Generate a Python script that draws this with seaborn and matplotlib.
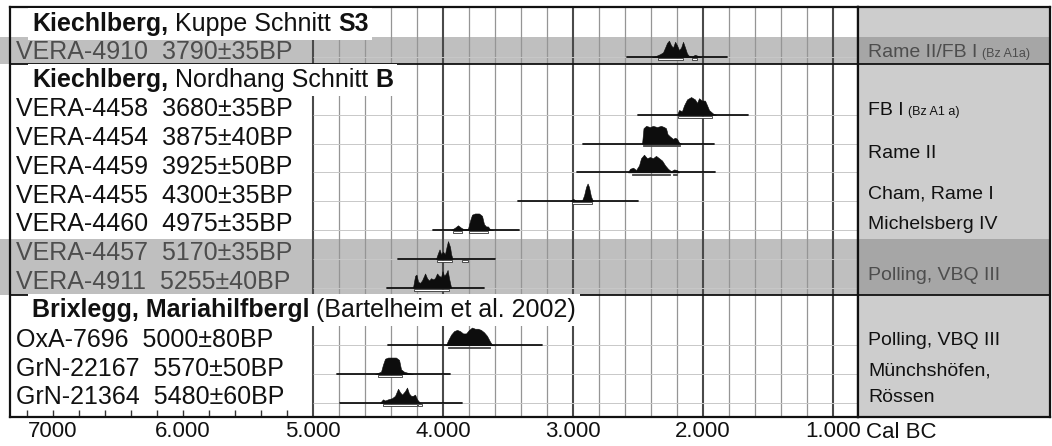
import numpy as np
import pandas as pd
import matplotlib
matplotlib.use("Agg")
import matplotlib.pyplot as plt
import matplotlib.transforms as mtransforms
from matplotlib.patches import Rectangle
import seaborn as sns

# ---------------- data ----------------
lab_codes = ["VERA-4910", "VERA-4458", "VERA-4454", "VERA-4459", "VERA-4455",
             "VERA-4460", "VERA-4457", "VERA-4911", "OxA-7696", "GrN-22167", "GrN-21364"]
bp_dates = ["3790±35BP", "3680±35BP", "3875±40BP", "3925±50BP", "4300±35BP",
            "4975±35BP", "5170±35BP", "5255±40BP", "5000±80BP", "5570±50BP", "5480±60BP"]
sample_rows = [1, 3, 4, 5, 6, 7, 8, 9, 11, 12, 13]
range_from = [2585, 2500, 2923, 2969, 3423, 4077, 4346, 4431, 4423, 4815, 4792]
range_to = [1815, 1654, 1915, 1908, 2500, 3415, 3600, 3685, 3238, 3946, 3854]

years_4910 = [2392, 2362, 2331, 2308, 2292, 2277, 2262, 2246, 2231, 2215, 2200, 2185, 2169, 2154, 2138, 2123, 2108, 2085, 2062, 2038, 2015]
dens_4910 = [0, 1, 2.5, 4, 8, 12, 14, 10, 8, 13, 10, 6, 8, 13, 8, 3, 1, 0.5, 2, 1, 0]
years_4458 = [2200, 2185, 2162, 2146, 2123, 2092, 2062, 2046, 2031, 2008, 1985, 1969, 1954, 1923, 1900]
dens_4458 = [0, 4, 3, 8, 13, 15, 13, 10, 14, 12, 12, 8, 4, 1, 0]
years_4454 = [2469, 2458, 2438, 2408, 2385, 2354, 2323, 2300, 2285, 2273, 2254, 2231, 2215, 2200, 2185, 2169]
dens_4454 = [0, 13, 15, 14, 15, 14, 15, 14, 13, 8, 6, 4, 5, 4, 1, 0]
years_4459 = [2577, 2562, 2538, 2515, 2492, 2477, 2454, 2431, 2408, 2385, 2362, 2338, 2315, 2292, 2269, 2246, 2223, 2200, 2185]
dens_4459 = [0, 3, 4, 2, 6, 12, 15, 12, 13, 12, 14, 12, 10, 6, 3, 1, 2.5, 2, 0]
years_4455 = [3023, 3000, 2977, 2931, 2915, 2900, 2888, 2877, 2862, 2846]
dens_4455 = [0, 2, 0.5, 0.5, 5, 12, 15, 12, 4, 0]
years_4460 = [3938, 3908, 3885, 3862, 3838, 3808, 3792, 3777, 3754, 3723, 3700, 3685, 3669, 3654, 3638, 3615]
dens_4460 = [0, 2, 4, 2, 0.5, 1, 8, 13, 14, 14, 12, 5, 3, 3, 0.5, 0]
years_4457 = [4054, 4038, 4027, 4015, 4000, 3985, 3973, 3962, 3946, 3938, 3927]
dens_4457 = [0, 5, 8, 4, 6, 4, 10, 15, 10, 4, 0]
years_4911 = [4231, 4215, 4204, 4192, 4177, 4162, 4138, 4123, 4108, 4092, 4077, 4062, 4046, 4031, 4015, 4004, 3992, 3977, 3965, 3954, 3938]
dens_4911 = [0, 10, 11, 5, 4, 6, 12, 8, 6, 8, 7, 8, 12, 10, 9, 14, 10, 12, 15, 8, 0]
years_7696 = [3977, 3962, 3938, 3915, 3892, 3869, 3846, 3823, 3800, 3777, 3754, 3731, 3708, 3685, 3662, 3638, 3623, 3600]
dens_7696 = [0, 4, 9, 12, 13, 12, 10, 10, 13, 15, 14, 14, 13, 11, 8, 3, 0.5, 0]
years_22167 = [4523, 4500, 4477, 4462, 4446, 4423, 4392, 4362, 4338, 4323, 4300, 4269, 4231]
dens_22167 = [0, 1, 2, 8, 13, 14, 14, 14, 12, 4, 2, 1, 0]
years_21364 = [4485, 4462, 4446, 4423, 4392, 4369, 4346, 4331, 4315, 4292, 4277, 4262, 4246, 4231, 4215, 4200, 4177]
dens_21364 = [0, 3, 2, 3, 4, 6, 12, 9, 7, 10, 13, 8, 6, 6, 7, 3, 0]

sigma_4910 = [(2346, 2154), (2085, 2046)]
sigma_4458 = [(2192, 1931)]
sigma_4454 = [(2462, 2177)]
sigma_4459 = [(2546, 2254), (2231, 2200)]
sigma_4455 = [(3008, 2854)]
sigma_4460 = [(3923, 3854), (3800, 3654)]
sigma_4457 = [(4046, 3931), (3854, 3808)]
sigma_4911 = [(4223, 3954)]
sigma_7696 = [(3962, 3638)]
sigma_22167 = [(4500, 4315)]
sigma_21364 = [(4462, 4200), (4192, 4162)]

dist_years = [years_4910, years_4458, years_4454, years_4459, years_4455, years_4460,
              years_4457, years_4911, years_7696, years_22167, years_21364]
dist_dens = [dens_4910, dens_4458, dens_4454, dens_4459, dens_4455, dens_4460,
             dens_4457, dens_4911, dens_7696, dens_22167, dens_21364]
sigmas = [sigma_4910, sigma_4458, sigma_4454, sigma_4459, sigma_4455, sigma_4460,
          sigma_4457, sigma_4911, sigma_7696, sigma_22167, sigma_21364]

header_rows = [0, 2, 10]
header_parts = [
    [("Kiechlberg,", "bold"), ("Kuppe Schnitt", "normal"), ("S3", "bold")],
    [("Kiechlberg,", "bold"), ("Nordhang Schnitt", "normal"), ("B", "bold")],
    [("Brixlegg, Mariahilfbergl", "bold"), ("(Bartelheim et al. 2002)", "normal")],
]
shaded_groups = [[1], [8, 9]]

culture_labels = ["Rame II/FB I", "FB I", "Rame II", "Cham, Rame I", "Michelsberg IV",
                  "Polling, VBQ III", "Polling, VBQ III", "Münchshöfen,", "Rössen"]
culture_small = ["(Bz A1a)", "(Bz A1 a)", "", "", "", "", "", "", ""]
culture_rows = [1.24, 3.26, 4.75, 6.17, 7.2, 9.0, 11.24, 12.29, 13.22]
culture_shaded = [True, False, False, False, False, True, False, False, False]

tick_years = [7000, 6000, 5000, 4000, 3000, 2000, 1000]
tick_labels = ["7000", "6.000", "5.000", "4.000", "3.000", "2.000", "1.000"]

# ---------------- style ----------------
sns.set_theme(style="white")
plt.rcParams['font.family'] = ['Liberation Sans', 'DejaVu Sans']

W, H = 1052, 446
fig = plt.figure(figsize=(W / 100, H / 100), dpi=100)
ax = fig.add_axes([10 / W, 1 - 417 / H, 848 / W, 410 / H])
axr = fig.add_axes([858 / W, 1 - 417 / H, 192 / W, 410 / H])

YTOP, YBOT = -0.49, 13.74
XL, XR = 7331, 808
PX = 1 / 28.8   # one pixel in row units
BASE = 0.25     # range line offset below row centre
DSCALE = 1.18 * PX

ax.set_facecolor("white")
axr.set_facecolor("#cdcdcd")

band_main = "#bfbfbf"
band_right = "#a6a6a6"
blend = mtransforms.blended_transform_factory(ax.transAxes, ax.transData)
blend_r = mtransforms.blended_transform_factory(axr.transAxes, axr.transData)
for grp in shaded_groups:
    y0, y1 = min(grp) - 0.45, max(grp) + 0.5
    ax.add_patch(Rectangle((-0.012, y0), 1.012, y1 - y0, transform=blend,
                           fc=band_main, ec="none", clip_on=False, zorder=0.5))
    axr.add_patch(Rectangle((0, y0), 1, y1 - y0, transform=blend_r,
                            fc=band_right, ec="none", zorder=0.5))

# vertical grid (only right of the label column)
for yr in range(1000, 5001, 200):
    major = yr % 1000 == 0
    ax.vlines(yr, YTOP, YBOT, color="#4a4a4a" if major else "#959595",
              lw=1.5 if major else 0.9, zorder=1)
# small inward ticks in the label column
for yr in range(5200, 7300, 200):
    ax.vlines(yr, YBOT - 0.24, YBOT, color="#333333", lw=1.0, zorder=1)
# faint row baselines
ax.hlines([r + BASE for r in sample_rows], 5000, XR, color="#c8c8c8", lw=0.7, zorder=1)

# separators
for yy in (1.5, 9.5):
    ax.hlines(yy, XL, XR, color="#111111", lw=1.3, zorder=2)
    axr.axhline(yy, color="#111111", lw=1.3, zorder=2)

# ranges drawn with seaborn
rng = pd.DataFrame({
    "sample": np.repeat(lab_codes, 2),
    "year": np.ravel(np.column_stack([range_from, range_to])),
    "y": np.repeat([r + BASE for r in sample_rows], 2),
})
sns.lineplot(data=rng, x="year", y="y", units="sample", estimator=None, sort=False,
             color="#111111", lw=1.3, ax=ax, legend=False, zorder=3)

# probability distributions + sigma brackets
for r, yrs, dd, sg in zip(sample_rows, dist_years, dist_dens, sigmas):
    b = r + BASE
    ax.fill_between(yrs, b, b - np.asarray(dd) * DSCALE, color="#0d0d0d", lw=0.4,
                    edgecolor="#0d0d0d", zorder=4)
    for a, e in sg:
        ax.add_patch(Rectangle((e, b + 1.3 * PX), a - e, 1.6 * PX, fc="white",
                               ec="#333333", lw=0.6, zorder=4))

ax.set_xlim(XL, XR)
ax.set_ylim(YBOT, YTOP)
ax.set_xlabel("")
ax.set_ylabel("")
ax.set_yticks([])
ax.set_xticks(tick_years)
ax.set_xticklabels(tick_labels)
ax.tick_params(axis="x", length=0, pad=3, labelsize=16, labelcolor="#111111")
for sp in ax.spines.values():
    sp.set_color("#111111")
    sp.set_linewidth(1.6)
    sp.set_visible(True)
fig.text(866 / W, 1 - 432 / H, "Cal BC", fontsize=16, va="center", ha="left", color="#111111")

# sample labels
FS = 18
shaded_rows = [r for g in shaded_groups for r in g]
for r, code, bp in zip(sample_rows, lab_codes, bp_dates):
    col = "#4d4d4d" if r in shaded_rows else "#111111"
    ax.text(0.0071, r + 0.3, f"{code}  {bp}", transform=blend, fontsize=FS,
            va="baseline", ha="left", color=col, zorder=6)

# headers (mixed bold / regular) with white background
gap = 0.278 * FS
for r, parts in zip(header_rows, header_parts):
    t = None
    for txt, w in parts:
        kw = dict(fontsize=FS, fontweight=w, color="#111111", zorder=6,
                  bbox=dict(fc="white", ec="none", pad=2.8))
        if t is None:
            t = ax.text(0.026, r + (0.35 if r == 0 else 0.28), txt, transform=blend,
                        va="baseline", ha="left", **kw)
        else:
            t = ax.annotate(txt, xy=(1, 0), xycoords=t, xytext=(gap, 0),
                            textcoords="offset points", va="bottom", ha="left", **kw)

# right panel
axr.set_xlim(0, 1)
axr.set_ylim(YBOT, YTOP)
axr.set_xticks([])
axr.set_yticks([])
for sp in axr.spines.values():
    sp.set_color("#111111")
    sp.set_linewidth(1.6)
for lab, small, yy, sh in zip(culture_labels, culture_small, culture_rows, culture_shaded):
    col = "#4d4d4d" if sh else "#111111"
    t = axr.text(0.052, yy, lab, fontsize=14, va="baseline", ha="left", color=col, zorder=5)
    if small:
        axr.annotate(small, xy=(1, 0), xycoords=t, xytext=(3.5, 0.5),
                     textcoords="offset points", va="bottom", ha="left",
                     fontsize=9, color=col, zorder=5)

fig.savefig("out.png", dpi=100)
